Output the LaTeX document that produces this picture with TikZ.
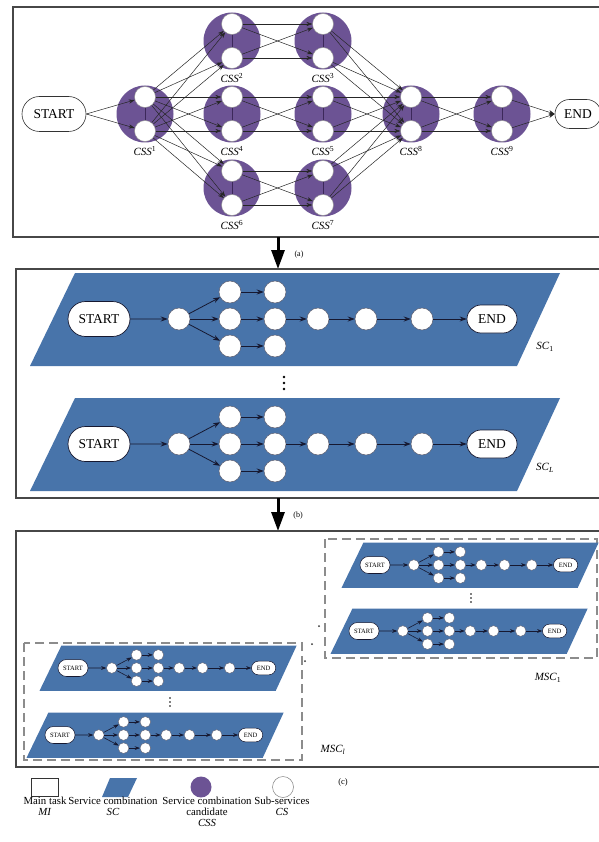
\documentclass[tikz,border=0pt]{standalone}
\usepackage{fontspec}
\setmainfont{Liberation Serif}
\usetikzlibrary{arrows.meta,shapes.misc}

\definecolor{cssP}{RGB}{108,83,148}
\definecolor{cssLine}{RGB}{60,40,90}
\definecolor{scB}{RGB}{72,116,170}
\definecolor{lineD}{RGB}{22,24,48}

\tikzset{
  panel/.style={draw=black!72, line width=1.4pt},
  msc/.style={draw=black!45, line width=1.2pt, dash pattern=on 9pt off 5pt},
  cssnode/.style={circle, fill=cssP, minimum size=57pt, inner sep=0pt},
  sub/.style={circle, fill=white, draw=black!45, line width=0.4pt, minimum size=21pt, inner sep=0pt},
  term/.style={rounded rectangle, draw=black!80, fill=white, line width=0.6pt, inner sep=0pt,
    font=\fontsize{13.5}{14}\selectfont},
  csslabel/.style={font=\fontsize{11}{12}\selectfont\itshape},
  link/.style={draw=black!85, line width=0.5pt, -{Stealth[length=6pt,width=4.2pt]}},
  bigarrow/.style={draw=black, line width=3pt, -{Triangle[length=19pt,width=13pt]}},
  tag/.style={font=\fontsize{8}{9}\selectfont},
  lanelabel/.style={font=\fontsize{11}{12}\selectfont},
  legend/.style={font=\fontsize{10.8}{11}\selectfont, align=center, anchor=north, inner sep=0pt},
  scsub/.style={circle, fill=white, draw=lineD!70, line width=#1*0.5pt, minimum size=22pt, inner sep=0pt},
  sclink/.style={draw=lineD, line width=#1*0.8pt, -{Stealth[length=7pt,width=5pt,scale=#1]}},
  % one service combination lane; the argument scales strokes and arrow tips
  pics/sclane/.style={code={
    \fill[scB] (-69,47) -- (-24,-46) -- (461,-46) -- (418,47) -- cycle;
    \node[term, draw=lineD, line width=#1*0.7pt, minimum width=62pt, minimum height=35pt] (-st) at (0,0) {START};
    \node[scsub=#1] (-c1) at (80,0) {};
    \node[scsub=#1] (-u1) at (131,-27) {};
    \node[scsub=#1] (-u2) at (131,0) {};
    \node[scsub=#1] (-u3) at (131,27) {};
    \node[scsub=#1] (-v1) at (176,-27) {};
    \node[scsub=#1] (-v2) at (176,0) {};
    \node[scsub=#1] (-v3) at (176,27) {};
    \node[scsub=#1] (-w1) at (219,0) {};
    \node[scsub=#1] (-w2) at (267,0) {};
    \node[scsub=#1] (-w3) at (323,0) {};
    \node[term, draw=lineD, line width=#1*0.7pt, minimum width=50pt, minimum height=28pt] (-en) at (393,0) {END};
    \draw[sclink=#1] (-st) -- (-c1);
    \foreach \k in {1,2,3} {
      \draw[sclink=#1] (-c1) -- (-u\k);
      \draw[sclink=#1] (-u\k) -- (-v\k);
    }
    \draw[sclink=#1] (-v2) -- (-w1);
    \draw[sclink=#1] (-w1) -- (-w2);
    \draw[sclink=#1] (-w2) -- (-w3);
    \draw[sclink=#1] (-w3) -- (-en);
  }}
}

\begin{document}
\begin{tikzpicture}[x=1pt, y=-1pt]
\useasboundingbox (0,0) rectangle (598,842);
\fill[white] (0,0) rectangle (598,842);

% ---------- (a) candidate graph ----------
\draw[panel] (13,7) rectangle (602,237);

\foreach \n/\x/\y in {1/145/114, 2/232/41, 4/232/114, 6/232/188,
                      3/323/41, 5/323/114, 7/323/188, 8/411/114, 9/502/114} {
  \node[cssnode] (c\n) at (\x,\y) {};
  \node[sub] (s\n a) at (\x,\y-17) {};
  \node[sub] (s\n b) at (\x,\y+17) {};
  \draw[cssLine, line width=0.5pt] (s\n a) -- (s\n b);
  \node[csslabel] at (\x,\y+37) {CSS\textsuperscript{\upshape\n}};
}

\node[term, minimum width=64pt, minimum height=35pt] (startA) at (54,114) {START};
\node[term, minimum width=46pt, minimum height=29pt] (endA) at (578,114) {END};

\draw[link] (startA.east) -- (s1a);
\draw[link] (startA.east) -- (s1b);

\foreach \t in {2,4,6}
  \foreach \p in {a,b}
    \foreach \q in {a,b}
      \draw[link] (s1\p) -- (s\t\q);

\foreach \f/\t in {2/3, 4/5, 6/7, 8/9}
  \foreach \p in {a,b}
    \foreach \q in {a,b}
      \draw[link] (s\f\p) -- (s\t\q);

\foreach \f in {3,5,7}
  \foreach \p in {a,b}
    \foreach \q in {a,b}
      \draw[link] (s\f\p) -- (s8\q);

\draw[link] (s9a) -- (endA.west);
\draw[link] (s9b) -- (endA.west);

% ---------- arrow (a) -> (b) ----------
\coordinate (aOut) at (278,237);
\coordinate (bIn) at (278,269);
\draw[bigarrow] (aOut) -- (bIn);
\node[tag] (tagA) at (299,255) {(a)};

% ---------- (b) service combinations ----------
\draw[panel] (16,269) rectangle (602,498);
\pic (sc1) at (99,319) {sclane=1};
\pic (scL) at (99,444) {sclane=1};
\foreach \y in {377,383,389} \fill[black] (284,\y) circle (1.4pt);
\node[lanelabel] (lab1) at (545,347) {\textit{SC}\textsubscript{1}};
\node[lanelabel] (labL) at (545,468) {\textit{SC}\textsubscript{\textit{L}}};

% ---------- arrow (b) -> (c) ----------
\coordinate (bOut) at (278,498);
\coordinate (cIn) at (278,531);
\draw[bigarrow] (bOut) -- (cIn);
\node[tag] (tagB) at (298,516) {(b)};

% ---------- (c) multiple service combinations ----------
\draw[panel] (16,531) rectangle (602,767);

\draw[msc] (325,539) rectangle (597,658);
\pic[scale=0.485, transform shape] (m1a) at (375,565) {sclane=0.75};
\pic[scale=0.485, transform shape] (m1b) at (364,631) {sclane=0.75};
\foreach \y in {594,598,602} \fill[black] (471,\y) circle (0.9pt);
\node[lanelabel] (labM1) at (548,678) {\textit{MSC}\textsubscript{1}};

\draw[msc] (24,643) rectangle (302,760);
\pic[scale=0.485, transform shape] (mla) at (73,668) {sclane=0.75};
\pic[scale=0.485, transform shape] (mlb) at (60,735) {sclane=0.75};
\foreach \y in {698,702,706} \fill[black] (170,\y) circle (0.9pt);
\node[lanelabel] (labMl) at (333,750) {\textit{MSC}\textsubscript{\textit{l}}};

\foreach \x/\y in {319/626, 312/644, 305/661} \fill[black!80] (\x,\y) circle (1pt);

% ---------- legend ----------
\node[draw=black!80, line width=0.8pt, minimum width=27pt, minimum height=18pt, inner sep=0pt] (lgM) at (45,787) {};
\fill[scB] (102,797) -- (110,778) -- (137,778) -- (128,797) -- cycle;
\node[circle, fill=cssP, minimum size=21pt, inner sep=0pt] (lgC) at (201,787) {};
\node[circle, draw=black!50, fill=white, minimum size=21pt, inner sep=0pt, line width=0.5pt] (lgS) at (283,787) {};

\node[legend] (txM) at (45,797) {Main task\\\textit{MI}};
\node[legend] (txS) at (113,797) {Service combination\\\textit{SC}};
\node[legend] (txC) at (207,797) {Service combination\\candidate\\\textit{CSS}};
\node[legend] (txU) at (282,797) {Sub-services\\\textit{CS}};
\node[tag, font=\fontsize{8.5}{9}\selectfont] (tagC) at (343,782) {(c)};
\end{tikzpicture}
\end{document}
